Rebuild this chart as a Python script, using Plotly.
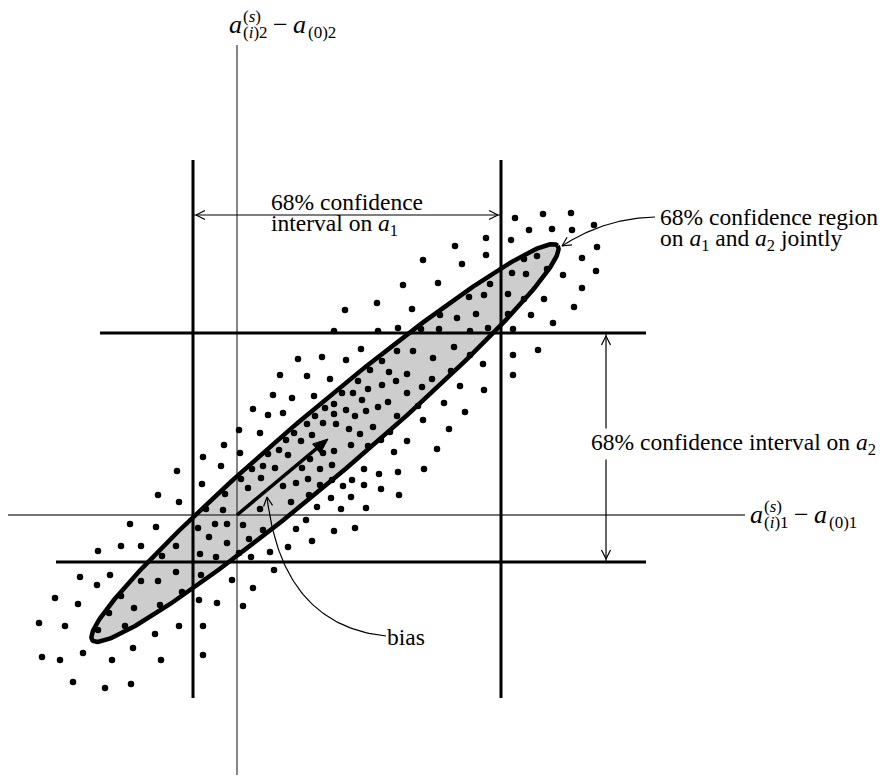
import numpy as np
import plotly.graph_objects as go

W, H = 889, 783
PAD = 8  # default body margin of the html page

# simulated parameter sets in page pixels (x right, y down)
pts_lower_left = [(203, 457), (240, 453), (221, 466), (177, 471), (202, 484), (241, 479), (248, 488),
                  (158, 495), (179, 502), (225, 494), (206, 509), (223, 510), (130, 524), (156, 527),
                  (198, 528), (215, 524), (227, 524), (243, 525), (209, 537), (227, 543), (98, 551),
                  (121, 546), (141, 546), (176, 546), (162, 556), (200, 554), (216, 557), (239, 553),
                  (80, 577), (110, 575), (97, 585), (141, 581), (158, 581), (176, 572), (201, 575),
                  (232, 580), (55, 598), (78, 604), (121, 596), (182, 592), (134, 608), (160, 605),
                  (199, 600), (217, 603), (243, 606), (39, 623), (65, 626), (109, 613), (98, 630),
                  (125, 626), (179, 626), (203, 626), (155, 634), (42, 657), (60, 660), (83, 653),
                  (112, 660), (133, 648), (161, 660), (203, 655), (73, 682), (105, 688), (131, 684),
                  (249, 539), (253, 588)]
pts_middle = [(334, 331), (378, 331), (361, 349), (298, 359), (322, 357), (346, 360), (382, 361),
              (397, 351), (280, 375), (307, 376), (330, 379), (370, 370), (389, 372), (407, 374),
              (358, 381), (382, 385), (396, 381), (273, 395), (292, 398), (314, 396), (342, 393),
              (353, 393), (368, 389), (407, 393), (362, 400), (253, 409), (268, 415), (283, 413),
              (325, 408), (334, 404), (346, 410), (366, 411), (378, 407), (388, 402), (315, 416),
              (334, 414), (355, 416), (397, 416), (239, 430), (260, 433), (307, 424), (323, 423),
              (336, 424), (349, 429), (373, 427), (390, 432), (294, 433), (312, 435), (286, 440),
              (301, 441), (360, 434), (224, 445), (268, 454), (279, 450), (288, 455), (310, 459),
              (323, 453), (334, 451), (351, 445), (368, 446), (381, 440), (394, 452), (407, 441),
              (252, 469), (263, 466), (275, 468), (302, 468), (320, 469), (332, 465), (364, 469),
              (379, 474), (398, 472), (261, 478), (283, 486), (296, 483), (308, 479), (320, 485),
              (332, 480), (343, 486), (352, 480), (364, 485), (381, 489), (309, 495), (331, 498),
              (351, 497), (399, 495), (291, 502), (260, 509), (317, 507), (341, 509), (366, 508),
              (306, 520), (296, 529), (334, 531), (355, 528), (263, 530), (312, 541), (288, 547),
              (270, 552), (251, 557), (274, 570), (377, 303), (345, 310), (437, 449), (424, 469)]
pts_upper_right = [(515, 218), (543, 214), (571, 213), (529, 230), (552, 229), (572, 230), (594, 225),
                   (511, 240), (486, 238), (455, 246), (423, 260), (486, 255), (462, 264), (524, 259),
                   (537, 256), (597, 247), (582, 258), (512, 273), (526, 274), (547, 269), (563, 275),
                   (596, 271), (403, 285), (438, 283), (490, 284), (582, 288), (469, 297), (484, 295),
                   (508, 294), (524, 299), (544, 299), (412, 309), (440, 315), (457, 318), (476, 314),
                   (508, 314), (531, 315), (574, 307), (553, 323), (398, 328), (421, 329), (439, 329),
                   (470, 331), (488, 328), (513, 329), (413, 351), (454, 347), (433, 358), (470, 355),
                   (513, 355), (538, 350), (451, 371), (483, 364), (513, 375), (432, 379), (422, 387),
                   (460, 386), (484, 390), (444, 403), (418, 406), (465, 412), (423, 420), (449, 429)]

origin = (237, 515)            # true parameters a(0)
a1_interval = (193, 501)       # 68% interval on a1 (x)
a2_interval = (333, 562)       # 68% interval on a2 (y)
ell_center = (325, 443)
ell_axes = (305, 33)
ell_angle = 40.3               # degrees
bias_tip = (328, 439)

FONT = "Times New Roman, Liberation Serif, serif"
fig = go.Figure()


def seg(xs, ys, width, color="black"):
    fig.add_trace(go.Scatter(x=list(xs), y=list(ys), mode="lines", hoverinfo="skip",
                             line=dict(color=color, width=width)))


def head(tip, frm, length=9, half=4.5, width=1.2):
    d = np.array(tip, float) - np.array(frm, float)
    u = d / np.hypot(*d)
    p = np.array([-u[1], u[0]])
    b = np.array(tip, float) - u * length
    pts = [b + p * half, np.array(tip, float), b - p * half]
    seg([q[0] for q in pts], [q[1] for q in pts], width)


def bezier(p0, p1, p2, n=60):
    t = np.linspace(0, 1, n)[:, None]
    p0, p1, p2 = (np.array(p, float) for p in (p0, p1, p2))
    c = (1 - t) ** 2 * p0 + 2 * (1 - t) * t * p1 + t ** 2 * p2
    return c[:, 0], c[:, 1]


# confidence ellipse
t = np.linspace(0, 2 * np.pi, 300)
phi = np.radians(ell_angle)
ex = ell_center[0] + ell_axes[0] * np.cos(t) * np.cos(phi) + ell_axes[1] * np.sin(t) * np.sin(phi)
ey = ell_center[1] - ell_axes[0] * np.cos(t) * np.sin(phi) + ell_axes[1] * np.sin(t) * np.cos(phi)
fig.add_trace(go.Scatter(x=ex, y=ey, mode="none", fill="toself", fillcolor="rgb(205,205,205)",
                         hoverinfo="skip"))

# coordinate axes
seg([origin[0], origin[0]], [45, 775], 1.3, "#444")
seg([8, 745], [origin[1], origin[1]], 1.3, "#444")
# interval lines
for xv in a1_interval:
    seg([xv, xv], [160, 698], 3)
seg([100, 646], [a2_interval[0]] * 2, 3)
seg([56, 646], [a2_interval[1]] * 2, 3)

fig.add_trace(go.Scatter(x=ex, y=ey, mode="lines", line=dict(color="black", width=4.5),
                         hoverinfo="skip"))

# sample points
for pts in (pts_lower_left, pts_middle, pts_upper_right):
    fig.add_trace(go.Scatter(x=[p[0] for p in pts], y=[p[1] for p in pts], mode="markers",
                             marker=dict(color="black", size=6.5), hoverinfo="skip"))

# bias arrow
d = np.array(bias_tip, float) - np.array(origin, float)
u = d / np.hypot(*d)
nrm = np.array([-u[1], u[0]])
hb = np.array(bias_tip, float) - u * 15
seg([origin[0], hb[0]], [origin[1], hb[1]], 3.5)
tri = [hb + nrm * 6, np.array(bias_tip, float), hb - nrm * 6, hb + nrm * 6]
fig.add_trace(go.Scatter(x=[q[0] for q in tri], y=[q[1] for q in tri], mode="lines", fill="toself",
                         fillcolor="black", line=dict(color="black", width=1), hoverinfo="skip"))

# interval arrows
y_arr = 215
seg([a1_interval[0] + 1, a1_interval[1] - 1], [y_arr, y_arr], 1.2)
head((a1_interval[0] + 3, y_arr), (a1_interval[1], y_arr))
head((a1_interval[1] - 3, y_arr), (a1_interval[0], y_arr))
x_arr = 606
seg([x_arr, x_arr], [a2_interval[0] + 1, a2_interval[1] - 1], 1.2)
head((x_arr, a2_interval[0] + 3), (x_arr, a2_interval[1]))
head((x_arr, a2_interval[1] - 3), (x_arr, a2_interval[0]))

# curved pointers
cx, cy = bezier((655, 217), (605, 218), (562, 246))
seg(cx, cy, 1.2)
head((562, 246), (605, 218))
bx, by = bezier((386, 636), (282, 625), (267, 497))
seg(bx, by, 1.2)
head((267, 497), (282, 625))


def label(x, y, text, size=23.5, bg=None):
    fig.add_annotation(x=x, y=y, text=text, showarrow=False, xanchor="left", yanchor="middle",
                       borderpad=0, bgcolor=bg,
                       font=dict(family=FONT, size=size, color="black"))


label(270, 202, "68% confidence")
label(270, 225, "interval on <i>a</i><sub>1</sub>")
label(659, 217, "68% confidence region")
label(659, 240, "on <i>a</i><sub>1</sub> and <i>a</i><sub>2</sub> jointly")
label(590, 444, "68% confidence interval on <i>a</i><sub>2</sub>", bg="white")
label(386, 637, "bias")

# axis titles: a^(s)_(i)k - a_(0)k
for (xa, ya, k) in [(228, 24, "2"), (749, 514, "1")]:
    label(xa, ya, "<i>a</i>", 26)
    label(xa + 14, ya - 8, "(<i>s</i>)", 17)
    label(xa + 14, ya + 8, "(<i>i</i>)" + k, 17)
    label(xa + 44, ya, "\u2212", 26)
    label(xa + 64, ya, "<i>a</i>", 26)
    label(xa + 79, ya + 8, "(0)" + k, 17)

fig.update_layout(width=W - PAD, height=H - PAD, margin=dict(l=0, r=0, t=0, b=0),
                  showlegend=False, plot_bgcolor="white", paper_bgcolor="white",
                  xaxis=dict(range=[PAD, W], visible=False, fixedrange=True),
                  yaxis=dict(range=[H, PAD], visible=False, fixedrange=True))
fig.write_html("out.html")
